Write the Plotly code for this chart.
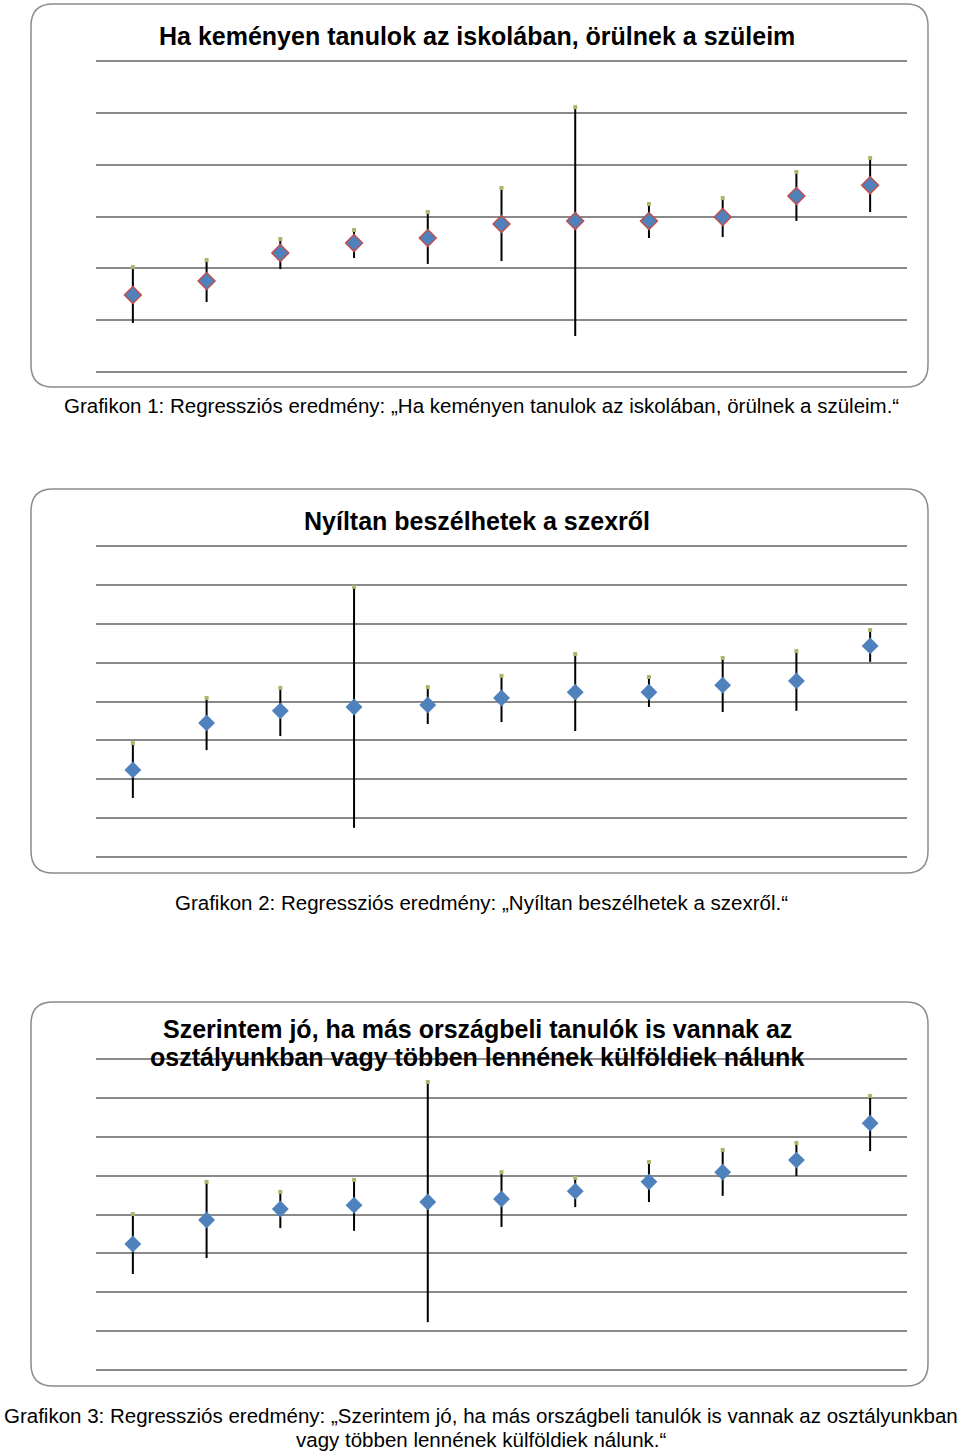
import plotly.graph_objects as go

W, H = 960, 1451

categories = list(range(1, 12))

# Chart 1: Ha keményen tanulok az iskolában, örülnek a szüleim
c1_high = [3.205, 3.232, 3.313, 3.348, 3.417, 3.510, 3.822, 3.448, 3.471, 3.572, 3.626]
c1_mean = [3.097, 3.151, 3.259, 3.298, 3.317, 3.371, 3.383, 3.383, 3.398, 3.479, 3.521]
c1_low = [2.989, 3.070, 3.197, 3.240, 3.217, 3.228, 2.939, 3.317, 3.321, 3.383, 3.417]

# Chart 2: Nyíltan beszélhetek a szexről
c2_high = [2.893, 3.009, 3.035, 3.295, 3.037, 3.066, 3.122, 3.063, 3.112, 3.130, 3.184]
c2_mean = [2.824, 2.945, 2.976, 2.986, 2.991, 3.009, 3.024, 3.024, 3.042, 3.053, 3.143]
c2_low = [2.752, 2.875, 2.911, 2.675, 2.942, 2.947, 2.924, 2.986, 2.973, 2.976, 3.102]

# Chart 3: Szerintem jó, ha más országbeli tanulók is vannak ...
c3_high = [3.001, 3.084, 3.058, 3.089, 3.341, 3.109, 3.094, 3.135, 3.166, 3.184, 3.305]
c3_mean = [2.924, 2.986, 3.014, 3.024, 3.032, 3.040, 3.060, 3.084, 3.109, 3.140, 3.235]
c3_low = [2.847, 2.888, 2.965, 2.958, 2.723, 2.968, 3.019, 3.032, 3.048, 3.099, 3.163]

# title lines and caption lines (each line placed separately)
titles = [
    ["Ha keményen tanulok az iskolában, örülnek a szüleim"],
    ["Nyíltan beszélhetek a szexről"],
    ["Szerintem jó, ha más országbeli tanulók is vannak az",
     "osztályunkban vagy többen lennének külföldiek nálunk"],
]
captions = [
    ["Grafikon 1: Regressziós eredmény: „Ha keményen tanulok az iskolában, örülnek a szüleim.“"],
    ["Grafikon 2: Regressziós eredmény: „Nyíltan beszélhetek a szexről.“"],
    ["Grafikon 3: Regressziós eredmény: „Szerintem jó, ha más országbeli tanulók is vannak az osztályunkban",
     "vagy többen lennének külföldiek nálunk.“"],
]
y_ranges = [(2.8, 4.0, 0.2), (2.6, 3.4, 0.1), (2.6, 3.4, 0.1)]


def X(p):
    return p / W


def Y(p):
    return 1 - p / H


# layout geometry (pixels)
plot_x = (96, 907)
grid_px = [(61, 372), (546, 857), (1059, 1370)]
panel_px = [(31, 4, 928, 387), (31, 489, 928, 873), (31, 1002, 928, 1386)]
title_y = [[36], [521], [1029, 1057]]
caption_y = [[406], [902], [1415, 1439]]

series = [
    (c1_high, c1_mean, c1_low),
    (c2_high, c2_mean, c2_low),
    (c3_high, c3_mean, c3_low),
]

fig = go.Figure()
layout_axes = {}
pad = 8
for i, (hi, me, lo) in enumerate(series):
    n = i + 1
    xa = "x" if n == 1 else f"x{n}"
    ya = "y" if n == 1 else f"y{n}"
    up = [h - m for h, m in zip(hi, me)]
    dn = [m - l for m, l in zip(me, lo)]
    marker_line = dict(color="#C0504D", width=1.5) if n == 1 else dict(width=0)
    fig.add_trace(go.Scatter(
        x=categories, y=me, xaxis=xa, yaxis=ya, mode="markers",
        marker=dict(symbol="diamond", size=13, color="#4F81BD", line=marker_line),
        error_y=dict(type="data", symmetric=False, array=up, arrayminus=dn,
                     color="black", thickness=2, width=0),
        showlegend=False, hoverinfo="skip",
    ))
    fig.add_trace(go.Scatter(
        x=categories, y=hi, xaxis=xa, yaxis=ya, mode="markers",
        marker=dict(symbol="square", size=4, color="#A6B86A"),
        showlegend=False, hoverinfo="skip",
    ))
    r0, r1, step = y_ranges[i]
    gt, gb = grid_px[i]
    scale = (r1 - r0) / (gb - gt)
    layout_axes["xaxis" if n == 1 else f"xaxis{n}"] = dict(
        domain=[X(plot_x[0]), X(plot_x[1])], range=[0.5, 11.5],
        showgrid=False, showticklabels=False, zeroline=False, showline=False,
        ticks="", anchor=ya,
    )
    layout_axes["yaxis" if n == 1 else f"yaxis{n}"] = dict(
        domain=[Y(gb + pad), Y(gt - pad)],
        range=[r0 - pad * scale, r1 + pad * scale],
        tick0=r0, dtick=step, showgrid=True, gridcolor="#8A8A8A", gridwidth=1.5,
        showticklabels=False, zeroline=False, showline=False, ticks="", anchor=xa,
    )


def rrect(x0, y0, x1, y1, r):
    return (f"M {X(x0 + r)},{Y(y0)} L {X(x1 - r)},{Y(y0)} "
            f"Q {X(x1)},{Y(y0)} {X(x1)},{Y(y0 + r)} L {X(x1)},{Y(y1 - r)} "
            f"Q {X(x1)},{Y(y1)} {X(x1 - r)},{Y(y1)} L {X(x0 + r)},{Y(y1)} "
            f"Q {X(x0)},{Y(y1)} {X(x0)},{Y(y1 - r)} L {X(x0)},{Y(y0 + r)} "
            f"Q {X(x0)},{Y(y0)} {X(x0 + r)},{Y(y0)} Z")


shapes = []
for (x0, y0, x1, y1) in panel_px:
    shapes.append(dict(type="path", xref="paper", yref="paper",
                       path=rrect(x0, y0, x1, y1, 22),
                       line=dict(color="#8C8C8C", width=1.5)))

annotations = []
for i in range(3):
    for line, yy in zip(titles[i], title_y[i]):
        annotations.append(dict(
            text=f"<b>{line}</b>", xref="paper", yref="paper",
            x=X(477), y=Y(yy), xanchor="center", yanchor="middle",
            showarrow=False, font=dict(family="Liberation Sans, Arial", size=25, color="black"),
        ))
    for line, yy in zip(captions[i], caption_y[i]):
        annotations.append(dict(
            text=line, xref="paper", yref="paper",
            x=X(481), y=Y(yy), xanchor="center", yanchor="middle",
            showarrow=False, font=dict(family="Liberation Sans, Arial", size=20.5, color="black"),
        ))

fig.update_layout(
    width=W, height=H, margin=dict(l=0, r=0, t=0, b=0),
    paper_bgcolor="white", plot_bgcolor="rgba(0,0,0,0)",
    shapes=shapes, annotations=annotations, **layout_axes,
)

fig.write_html("out.html")
